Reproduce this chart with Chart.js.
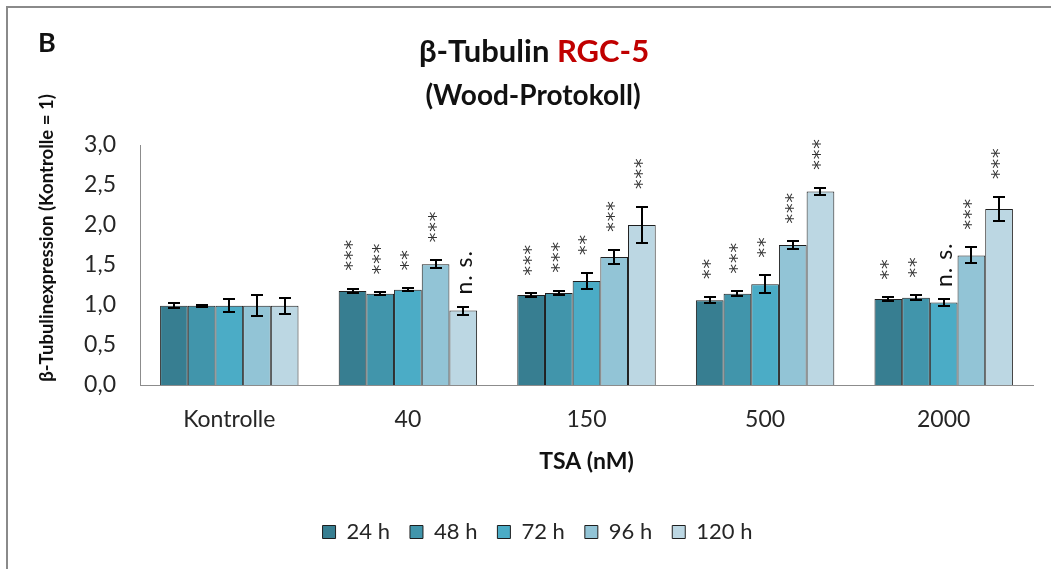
<!DOCTYPE html>
<html lang="de">
<head>
<meta charset="utf-8">
<title>β-Tubulin RGC-5 (Wood-Protokoll)</title>
<script src="https://cdn.jsdelivr.net/npm/chart.js@4/dist/chart.umd.min.js"></script>
<style>
  html, body { margin: 0; padding: 0; background: #fff; overflow: hidden; }
  #wrap { position: relative; width: 1051px; height: 569px; overflow: hidden; }
  #frame { position: absolute; left: 6px; top: 6px; width: 2000px; height: 2000px;
           border-left: 2px solid #8a8a8a; border-top: 2px solid #8a8a8a; }
  #chart { position: absolute; left: 0; top: 0; }
  .txt { position: absolute; font-family: Lato, "Open Sans", sans-serif; font-weight: 700;
         color: #111; line-height: 1; white-space: nowrap; }
  #panel { left: 38px; top: 28px; font-size: 27px; }
  #title { left: 534px; top: 35px; font-size: 31px; transform: translateX(-50%); }
  #title .red { color: #c00000; }
  #subtitle { left: 533px; top: 80px; font-size: 28px; transform: translateX(-50%); }
  #ytitle { left: 46px; top: 238px; font-size: 18.5px; transform: translate(-50%, -50%) rotate(-90deg); }
</style>
</head>
<body>
<div id="wrap">
  <div id="frame"></div>
  <canvas id="chart" width="1051" height="569"></canvas>
  <div class="txt" id="panel">B</div>
  <div class="txt" id="title">β-Tubulin <span class="red">RGC-5</span></div>
  <div class="txt" id="subtitle">(Wood-Protokoll)</div>
  <div class="txt" id="ytitle">β-Tubulinexpression (Kontrolle = 1)</div>
</div>
<script>
// TSA concentrations on the x axis
const categories = ['Kontrolle', '40', '150', '500', '2000'];
// incubation times (one series each)
const seriesLabels = ['24 h', '48 h', '72 h', '96 h', '120 h'];

// relative β-Tubulin expression (Kontrolle = 1), per incubation time
const values24  = [0.99, 1.175, 1.125, 1.06, 1.075];
const values48  = [0.99, 1.14, 1.15, 1.14, 1.09];
const values72  = [0.99, 1.19, 1.30, 1.26, 1.03];
const values96  = [0.99, 1.51, 1.60, 1.75, 1.62];
const values120 = [0.99, 0.93, 2.00, 2.42, 2.20];

// standard error of each bar
const err24  = [0.03, 0.03, 0.02, 0.04, 0.02];
const err48  = [0.015, 0.02, 0.03, 0.03, 0.03];
const err72  = [0.08, 0.02, 0.10, 0.11, 0.045];
const err96  = [0.13, 0.05, 0.09, 0.045, 0.10];
const err120 = [0.10, 0.05, 0.225, 0.045, 0.15];

// significance versus Kontrolle
const sig24  = ['', '***', '***', '**', '**'];
const sig48  = ['', '***', '***', '***', '**'];
const sig72  = ['', '**', '**', '**', 'n. s.'];
const sig96  = ['', '***', '***', '***', '***'];
const sig120 = ['', 'n. s.', '***', '***', '***'];

// y axis tick values
const yTicks = [0, 0.5, 1.0, 1.5, 2.0, 2.5, 3.0];

const seriesValues = [values24, values48, values72, values96, values120];
const seriesErrors = [err24, err48, err72, err96, err120];
const seriesSig = [sig24, sig48, sig72, sig96, sig120];
const seriesColors = ['#377e91', '#4195ab', '#4bacc6', '#92c4d6', '#bcd7e3'];

const FONT = 'Lato, "Open Sans", sans-serif';

// error bars with caps, drawn from the values and errors through the y scale
const errorBars = {
  id: 'errorBars',
  afterDatasetsDraw(chart) {
    const ctx = chart.ctx;
    const y = chart.scales.y;
    ctx.save();
    ctx.strokeStyle = '#000';
    ctx.lineWidth = 2;
    chart.data.datasets.forEach((ds, di) => {
      const meta = chart.getDatasetMeta(di);
      meta.data.forEach((bar, i) => {
        const v = ds.data[i], e = ds.errors[i];
        const top = Math.round(y.getPixelForValue(v + e));
        const bot = Math.round(y.getPixelForValue(v - e));
        const x = Math.round(bar.x);
        const cap = 6;
        ctx.beginPath();
        ctx.moveTo(x, top); ctx.lineTo(x, bot);
        ctx.moveTo(x - cap, top); ctx.lineTo(x + cap, top);
        ctx.moveTo(x - cap, bot); ctx.lineTo(x + cap, bot);
        ctx.stroke();
      });
    });
    ctx.restore();
  }
};

// significance marks, written upwards above each error bar
const sigLabels = {
  id: 'sigLabels',
  afterDatasetsDraw(chart) {
    const ctx = chart.ctx;
    const y = chart.scales.y;
    ctx.save();
    chart.data.datasets.forEach((ds, di) => {
      const meta = chart.getDatasetMeta(di);
      meta.data.forEach((bar, i) => {
        const txt = ds.sig[i];
        if (!txt) return;
        const top = y.getPixelForValue(ds.data[i] + ds.errors[i]);
        const isNs = txt.indexOf('n') === 0;
        ctx.save();
        ctx.translate(bar.x, top - (isNs ? 12 : 18));
        ctx.rotate(-Math.PI / 2);
        ctx.textAlign = 'left';
        ctx.textBaseline = 'middle';
        if (isNs) {
          ctx.font = '23px ' + FONT;
          ctx.fillStyle = '#111';
          ctx.letterSpacing = '1px';
          ctx.fillText(txt, 0, 1);
        } else {
          ctx.font = '19px "DejaVu Sans", sans-serif';
          ctx.fillStyle = '#333';
          ctx.letterSpacing = '1px';
          ctx.fillText(txt, 0, 1);
        }
        ctx.restore();
      });
    });
    ctx.restore();
  }
};

new Chart(document.getElementById('chart'), {
  type: 'bar',
  data: {
    labels: categories,
    datasets: seriesLabels.map((lab, k) => ({
      label: lab,
      data: seriesValues[k],
      errors: seriesErrors[k],
      sig: seriesSig[k],
      backgroundColor: seriesColors[k],
      borderColor: '#1e1e1e',
      borderWidth: 1,
      borderSkipped: 'bottom',
      categoryPercentage: 0.775,
      barPercentage: 1.0
    }))
  },
  options: {
    responsive: false,
    devicePixelRatio: 1,
    animation: false,
    layout: { padding: { left: 42, top: 145, right: 18, bottom: 16 } },
    plugins: {
      legend: {
        position: 'bottom',
        labels: {
          font: { family: FONT, size: 22 },
          color: '#262626',
          boxWidth: 13,
          boxHeight: 13,
          padding: 20
        }
      },
      tooltip: { enabled: false },
      title: { display: false }
    },
    scales: {
      x: {
        grid: { display: false, drawTicks: false },
        border: { display: true, color: '#8c8c8c', width: 1 },
        ticks: { font: { family: FONT, size: 23 }, color: '#262626', padding: 21 },
        title: {
          display: true, text: 'TSA (nM)', color: '#111',
          font: { family: FONT, size: 23, weight: 'bold' },
          padding: { top: 4, bottom: 26 }
        },
        afterFit(scale) { scale.height = 116; }
      },
      y: {
        min: 0, max: 3,
        afterBuildTicks(scale) { scale.ticks = yTicks.map(v => ({ value: v })); },
        grid: { display: false, drawTicks: false },
        border: { display: true, color: '#8c8c8c', width: 1 },
        ticks: {
          font: { family: FONT, size: 23 }, color: '#262626', padding: 24,
          callback: v => v.toFixed(1).replace('.', ',')
        },
        afterFit(scale) { scale.width = 98; }
      }
    }
  },
  plugins: [errorBars, sigLabels]
});
</script>
</body>
</html>
